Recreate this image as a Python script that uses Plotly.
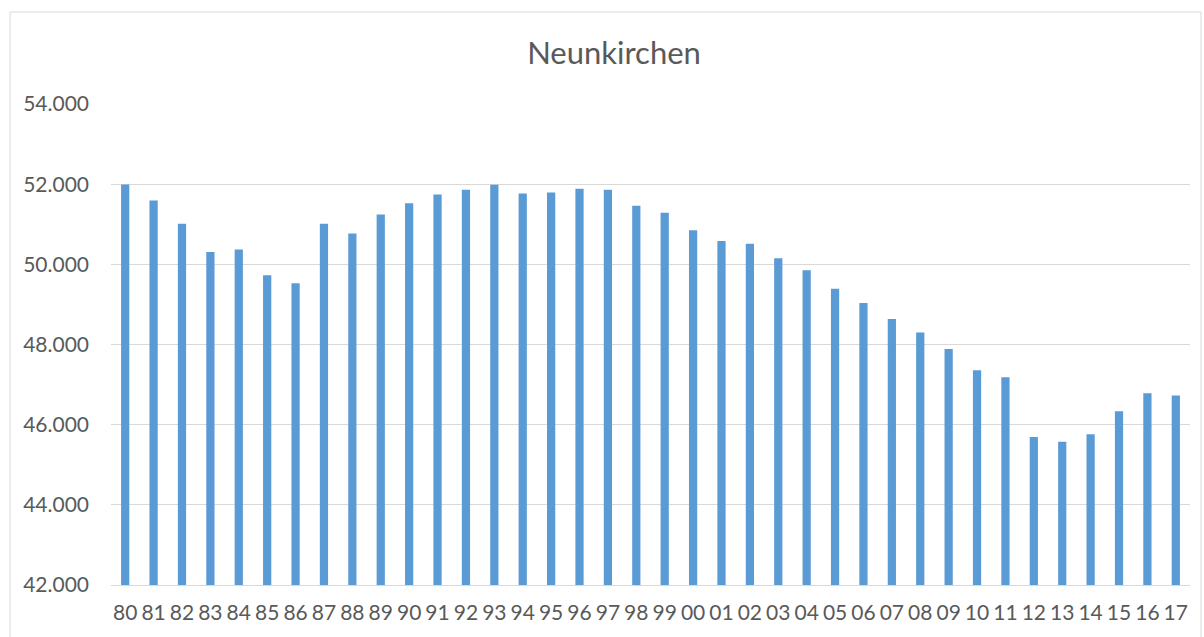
import plotly.graph_objects as go

years = ["80","81","82","83","84","85","86","87","88","89",
         "90","91","92","93","94","95","96","97","98","99",
         "00","01","02","03","04","05","06","07","08","09",
         "10","11","12","13","14","15","16","17"]
population = [51990, 51590, 51010, 50310, 50370, 49730, 49525, 51010, 50770, 51245,
              51525, 51740, 51860, 51985, 51765, 51790, 51885, 51860, 51460, 51285,
              50850, 50585, 50515, 50150, 49850, 49390, 49035, 48635, 48300, 47885,
              47360, 47185, 45690, 45575, 45760, 46335, 46785, 46725]

title_text = "Neunkirchen"
FONT = "Lato, 'Open Sans', sans-serif"
GREY = "#595959"

fig = go.Figure(go.Bar(x=years, y=population, marker=dict(color="#5b9bd5", line=dict(width=0)),
                       hoverinfo="x+y"))

W, H = 1204, 637
L, R, T, B = 111, 14, 104, 52
pw, ph = W - L - R, H - T - B

def px2paper_x(p):
    return (p - L) / pw

def py2paper_y(p):
    return (H - B - p) / ph

fig.update_layout(
    width=W, height=H,
    margin=dict(l=L, r=R, t=T, b=B),
    paper_bgcolor="white", plot_bgcolor="white",
    separators=",.",
    bargap=0.71,
    showlegend=False,
    title=dict(text=title_text, x=614 / W, xref="container", xanchor="center", y=1 - 53 / H, yanchor="middle",
               font=dict(family=FONT, size=31, color=GREY)),
    xaxis=dict(type="category", showgrid=False, showline=True, linecolor="#d9d9d9", linewidth=1,
               ticks="", tickangle=0, tickfont=dict(family=FONT, size=21, color=GREY), ticklabelstandoff=9),
    yaxis=dict(range=[42000, 54000], dtick=2000, tickformat=",d", showgrid=True,
               gridcolor="#d9d9d9", gridwidth=1, zeroline=False, showline=False, ticks="",
               tickfont=dict(family=FONT, size=21, color=GREY), ticklabelstandoff=21),
    shapes=[dict(type="rect", xref="paper", yref="paper",
                 x0=px2paper_x(10), x1=px2paper_x(1201), y0=py2paper_y(645), y1=py2paper_y(12),
                 line=dict(color="#d9d9d9", width=1), fillcolor="rgba(0,0,0,0)", layer="below")],
)

fig.write_html("out.html", config={"displayModeBar": False},
               post_script="document.body.style.margin='0';document.body.style.overflow='hidden';")
